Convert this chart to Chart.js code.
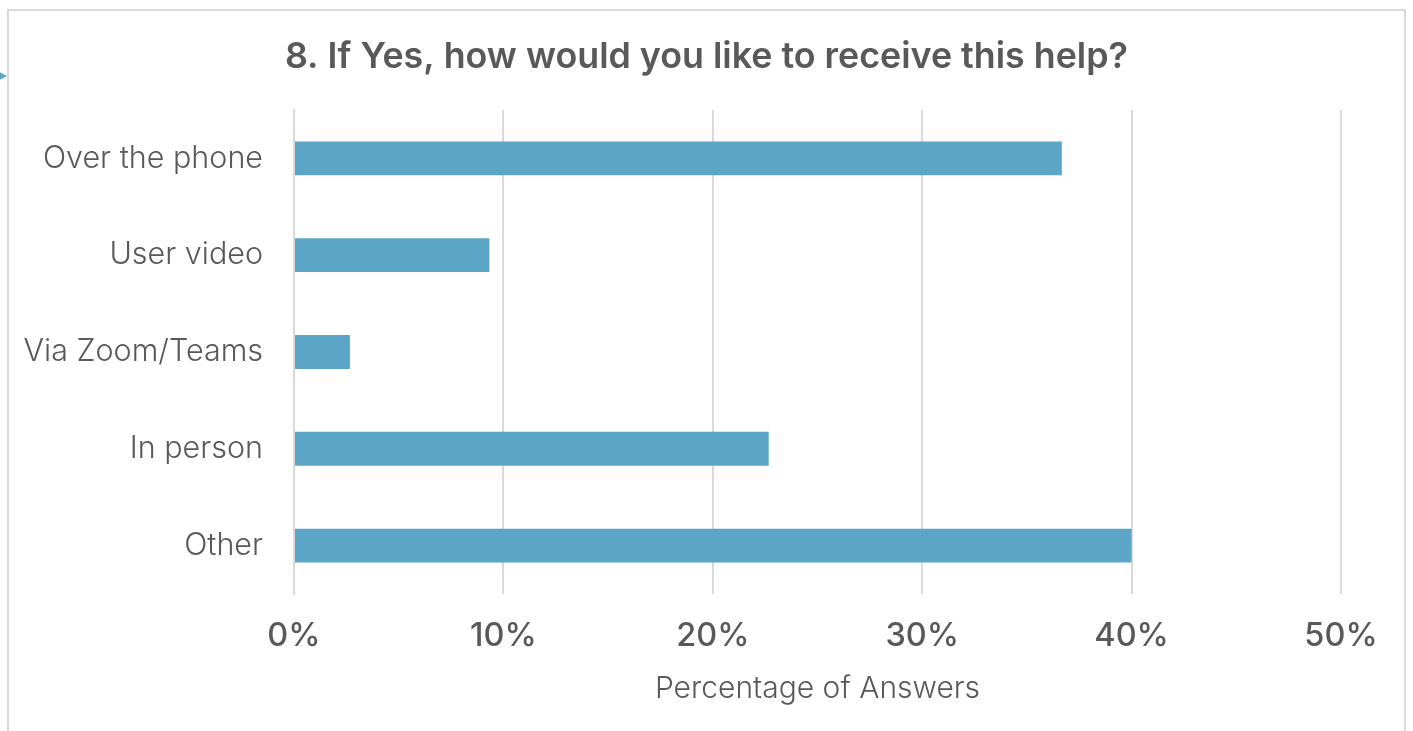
<!DOCTYPE html>
<html>
<head>
<meta charset="utf-8">
<script src="https://cdn.jsdelivr.net/npm/chart.js@4/dist/chart.umd.min.js"></script>
<style>
    html, body { margin:0; padding:0; background:#fff; }
    #wrap { position:relative; width:1413px; height:731px; overflow:hidden; }
    #frame { position:absolute; left:7px; top:9px; width:1399px; height:740px; border:2px solid #d9d9d9; box-sizing:border-box; }
    #arrow { position:absolute; left:-8px; top:68px; width:0; height:0; border-top:8px solid transparent; border-bottom:8px solid transparent; border-left:15px solid #5ba6c6; }
    canvas { position:absolute; left:0; top:0; }
</style>
</head>
<body>
<div id="wrap">
    <div id="frame"></div>
    <div id="arrow"></div>
    <canvas id="chart" width="1413" height="731"></canvas>
</div>
<script>
// Daten
const categories = ["Over the phone", "User video", "Via Zoom/Teams", "In person", "Other"];
const percentages = [36.67, 9.33, 2.67, 22.67, 40];
const xTicks = [0, 10, 20, 30, 40, 50];

const titleText = "8. If Yes, how would you like to receive this help?";
const axisTitle = "Percentage of Answers";
const textColor = "#595959";
const barColor = "#5ba6c6";

const ctx = document.getElementById("chart").getContext("2d");

new Chart(ctx, {
    type: "bar",
    data: {
        labels: categories,
        datasets: [{
            data: percentages,
            backgroundColor: barColor,
            borderWidth: 0,
            categoryPercentage: 1,
            barPercentage: 0.35
        }]
    },
    options: {
        indexAxis: "y",
        responsive: false,
        animation: false,
        layout: { padding: { left: 0, right: 0, top: 0, bottom: 20 } },
        plugins: {
            legend: { display: false },
            tooltip: { enabled: false },
            title: {
                display: true,
                text: titleText,
                color: textColor,
                font: { family: "Inter", size: 35.8, weight: "600", lineHeight: 1.2 },
                padding: { top: 36, bottom: 31 }
            }
        },
        scales: {
            x: {
                min: 0,
                max: 50,
                afterBuildTicks: s => { s.ticks = xTicks.map(v => ({ value: v })); },
                // Platz rechts neben der Achse, Titel bleibt über die volle Breite zentriert
                afterFit: s => { s.paddingRight = 72; },
                grid: { color: "#d9d9d9", lineWidth: 2, drawTicks: false },
                border: { display: false },
                ticks: {
                    color: textColor,
                    padding: 23,
                    maxRotation: 0,
                    font: { family: "Inter", size: 32.5, weight: "500", lineHeight: 1.2 },
                    callback: v => v + "%"
                },
                title: {
                    display: true,
                    text: axisTitle,
                    color: textColor,
                    font: { family: "Inter", size: 30, weight: "300", lineHeight: 1.2 },
                    padding: { top: -8, bottom: 4 }
                }
            },
            y: {
                afterFit: s => { s.width = 294; },
                grid: { display: false, drawTicks: false },
                border: { display: true, color: "#d9d9d9", width: 2 },
                ticks: {
                    color: textColor,
                    padding: 31,
                    font: { family: "Inter", size: 30.5, weight: "300" }
                }
            }
        }
    }
});
</script>
</body>
</html>
